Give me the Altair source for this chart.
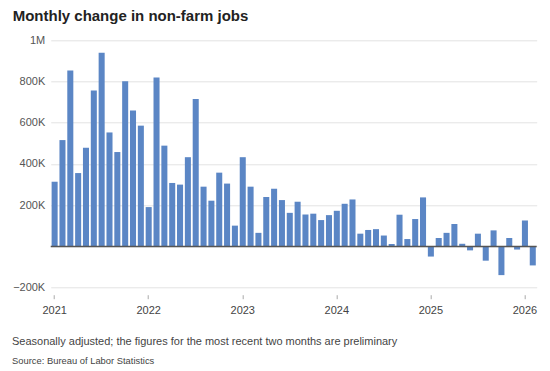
import altair as alt
import pandas as pd

# Monthly change in non-farm payrolls, thousands (Jan 2021 - Feb 2026)
start_year = 2021
values = [
    314, 516, 853, 356, 479, 756, 940, 553, 458, 801, 659, 586,   # 2021
    191, 820, 489, 308, 300, 433, 715, 290, 222, 358, 305, 101,   # 2022
    433, 290, 66, 240, 280, 225, 163, 217, 155, 159, 128, 152,    # 2023
    173, 207, 228, 62, 80, 84, 53, 12, 154, 36, 133, 238,         # 2024
    -49, 41, 66, 109, 13, -19, 62, -69, 78, -139, 41, -15,        # 2025
    126, -92,                                                     # 2026
]
months = [f"{start_year + i // 12}-{i % 12 + 1:02d}" for i in range(len(values))]
year_ticks = [m for m in months if m.endswith("-01")]
y_ticks = [-200, 0, 200, 400, 600, 800, 1000]

title_text = "Monthly change in non-farm jobs"
caption_text = "Seasonally adjusted; the figures for the most recent two months are preliminary"
source_text = "Source: Bureau of Labor Statistics"

df = pd.DataFrame({"month": months, "jobs": values})

FONT = "Liberation Sans"
W, H = 486, 247.4

x_enc = alt.X(
    "month:O",
    sort=months,
    scale=alt.Scale(paddingInner=0.23, paddingOuter=0.115),
    axis=alt.Axis(
        values=year_ticks,
        labelExpr="substring(datum.value, 0, 4)",
        title=None,
        domain=False,
        ticks=True,
        tickSize=4,
        tickColor="#aaaaaa",
        offset=7,
        labelPadding=6,
        labelAngle=0,
        labelFontSize=11,
        labelColor="#444444",
        labelFont=FONT,
        grid=False,
    ),
)

y_scale = alt.Scale(domain=[-200, 1000], nice=False)

bars = alt.Chart(df).mark_bar(color="#5b86c5").encode(
    x=x_enc,
    y=alt.Y(
        "jobs:Q",
        scale=y_scale,
        axis=alt.Axis(
            values=y_ticks,
            labelExpr="datum.value == 1000 ? '1M' : datum.value == 0 ? '' : datum.value < 0 ? '\u2212' + abs(datum.value) + 'K' : datum.value + 'K'",
            title=None,
            domain=False,
            ticks=False,
            labelPadding=6,
            labelFontSize=11,
            labelColor="#555555",
            labelFont=FONT,
            grid=True,
            gridColor="#e3e3e3",
            gridWidth=1,
        ),
    ),
)

zero = alt.Chart(pd.DataFrame({"z": [0]})).mark_rule(color="#555555", strokeWidth=1.5).encode(
    y=alt.Y("z:Q", scale=y_scale)
)

caption = alt.Chart(pd.DataFrame({"t": [caption_text]})).mark_text(
    align="left", baseline="middle", fontSize=11, color="#444444", font=FONT
).encode(text="t:N", x=alt.value(-38.7), y=alt.value(301.7))

source = alt.Chart(pd.DataFrame({"t": [source_text]})).mark_text(
    align="left", baseline="middle", fontSize=9.4, color="#444444", font=FONT
).encode(text="t:N", x=alt.value(-38.7), y=alt.value(320.5))

chart = alt.layer(bars, zero, caption, source).properties(
    width=W,
    height=H,
    autosize=alt.AutoSizeParams(type="none"),
    padding={"left": 42.7, "top": 32.3, "right": 5.3, "bottom": 79},
    title=alt.TitleParams(
        title_text,
        anchor="start",
        frame="group",
        dx=-38,
        offset=10,
        fontSize=15,
        fontWeight="bold",
        color="#222222",
        font=FONT,
    ),
).configure_view(stroke=None)

chart.save("out.html", embed_options={"renderer": "svg", "actions": False})
